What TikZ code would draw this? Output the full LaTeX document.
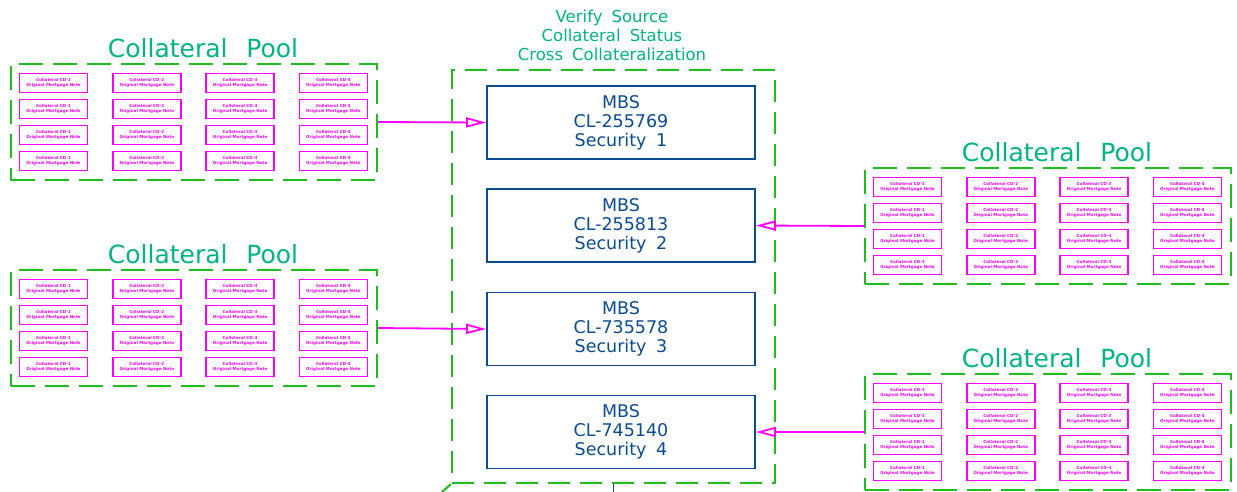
\documentclass[tikz,border=0pt]{standalone}
\usepackage{fontspec}
\setmainfont{DejaVu Sans}
\usetikzlibrary{arrows.meta}
\definecolor{cadgreen}{RGB}{30,190,30}
\definecolor{cadteal}{RGB}{0,180,130}
\definecolor{cadblue}{RGB}{10,75,145}
\definecolor{cadmag}{RGB}{255,0,255}
\newcommand\cadgap{\hspace{0.55em}}
\tikzset{
 poolbox/.style={draw=cadgreen, line width=2.1pt, dash pattern=on 24pt off 10pt, minimum width=366pt, minimum height=116pt, inner sep=0pt},
 notebox/.style={draw=cadmag, line width=1.8pt, minimum width=68pt, minimum height=19pt, inner sep=0pt, font=\fontsize{4.1}{4.8}\selectfont\bfseries, text=cadmag, align=center},
 mbsbox/.style={draw=cadblue, line width=1.7pt, minimum width=268pt, minimum height=73pt, inner sep=0pt, text=cadblue, align=center, font=\fontsize{17.5}{19}\selectfont},
 pooltitle/.style={text=cadteal, font=\fontsize{25}{28}\selectfont, anchor=base, inner sep=0pt},
 verifybox/.style={draw=cadgreen, line width=2.1pt, dash pattern=on 22pt off 10pt, minimum width=323pt, minimum height=413pt, inner sep=0pt},
 verifytitle/.style={text=cadteal, align=center, font=\fontsize{16.5}{19}\selectfont, inner sep=0pt},
 feed/.style={draw=cadmag, line width=1.8pt, -{Triangle[open, length=20pt, width=10pt, line width=1.8pt]}},
}
\newcommand\cadpool[3]{%
 \node[poolbox] (#1) at ({#2+183},{#3+58}) {};
 \foreach \c in {1,...,4} {
  \foreach \r in {1,...,4} {
   \node[notebox] (#1-\r-\c) at ({#2+8.5+34+(\c-1)*93.3},{#3+19+(\r-1)*26}) {Collateral CD-\c\\Original Mortgage Note};
  }
 }
 \node[pooltitle] (#1-title) at ({#2+192},{#3-7}) {Collateral\hspace{0.75em}Pool};
}
\begin{document}
\begin{tikzpicture}[x=1pt,y=-1pt]
\useasboundingbox (0,0) rectangle (1237,491);
% central verification frame
\node[verifybox] (verify) at (613.5,276.5) {};
\node[verifytitle] (verifytitle) at (612,35) {Verify\cadgap Source\\Collateral\cadgap Status\\Cross\cadgap Collateralization};
\draw[cadgreen, line width=2.1pt] (verify.south west) -- ++(-9,8);
\draw[cadblue, line width=1.7pt] (verify.south) -- ++(0,8);
% securities
\node[mbsbox] (mbs1) at (621,122.5) {MBS\\CL-255769\\Security\cadgap 1};
\node[mbsbox] (mbs2) at (621,225.5) {MBS\\CL-255813\\Security\cadgap 2};
\node[mbsbox] (mbs3) at (621,329) {MBS\\CL-735578\\Security\cadgap 3};
\node[mbsbox] (mbs4) at (621,432) {MBS\\CL-745140\\Security\cadgap 4};
% pools
\cadpool{poolA}{11}{64}
\cadpool{poolB}{11}{270}
\cadpool{poolC}{865}{168}
\cadpool{poolD}{865}{374}
% feeds
\draw[feed] (poolA.east) -- (mbs1.west);
\draw[feed] (poolC.west) -- (mbs2.east);
\draw[feed] (poolB.east) -- (mbs3.west);
\draw[feed] (poolD.west) -- (mbs4.east);
\end{tikzpicture}
\end{document}
